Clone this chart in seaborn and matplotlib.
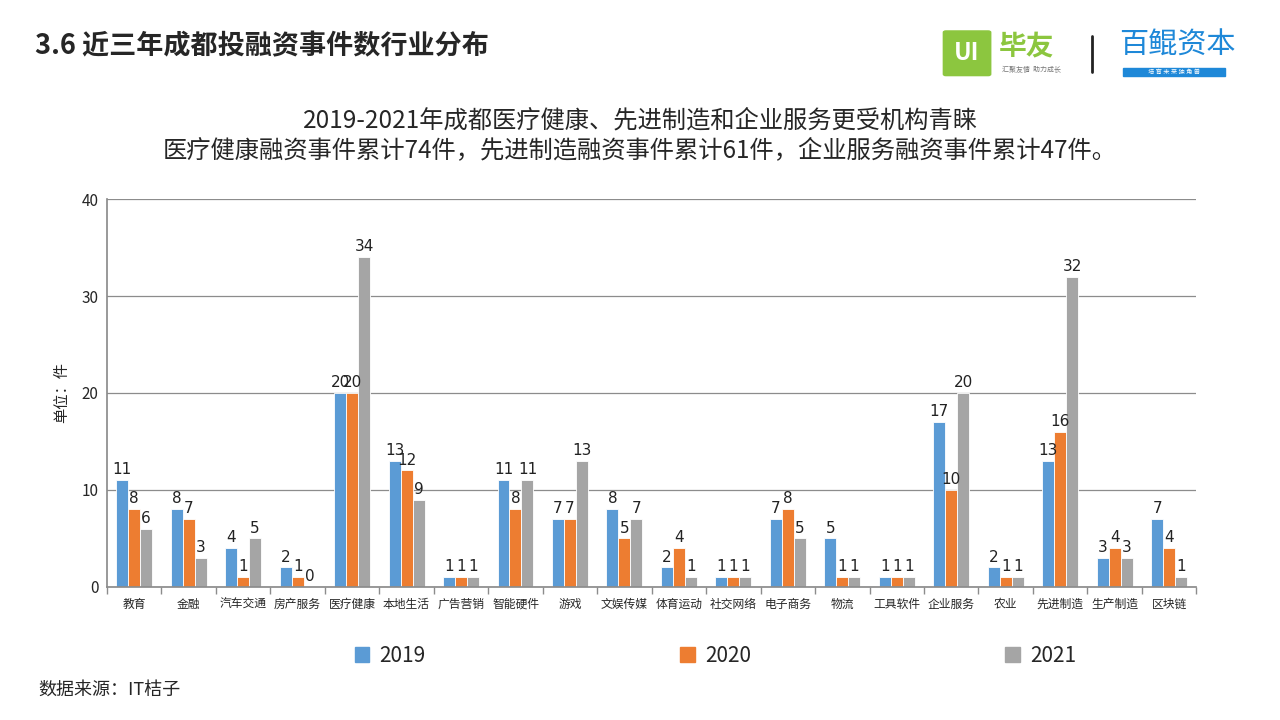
import pandas as pd
import matplotlib.pyplot as plt
import seaborn as sns
from matplotlib.patches import FancyBboxPatch, Rectangle

industries = ['教育', '金融', '汽车交通', '房产服务', '医疗健康', '本地生活', '广告营销',
              '智能硬件', '游戏', '文娱传媒', '体育运动', '社交网络', '电子商务', '物流',
              '工具软件', '企业服务', '农业', '先进制造', '生产制造', '区块链']
years = ['2019', '2020', '2021']
y2019 = [11, 8, 4, 2, 20, 13, 1, 11, 7, 8, 2, 1, 7, 5, 1, 17, 2, 13, 3, 7]
y2020 = [8, 7, 1, 1, 20, 12, 1, 8, 7, 5, 4, 1, 8, 1, 1, 10, 1, 16, 4, 4]
y2021 = [6, 3, 5, 0, 34, 9, 1, 11, 13, 7, 1, 1, 5, 1, 1, 20, 1, 32, 3, 1]
colors = ['#5B9BD5', '#ED7D31', '#A5A5A5']

df = pd.DataFrame({
    '行业': industries * 3,
    '年份': [y for y in years for _ in industries],
    '件数': y2019 + y2020 + y2021,
})

sns.set_theme(style='white')
plt.rcParams['font.family'] = ['Noto Sans CJK SC', 'DejaVu Sans']

fig = plt.figure(figsize=(12.8, 7.2), dpi=100)
ax = fig.add_axes([0.0836, 0.185, 0.851, 0.5385])

sns.barplot(data=df, x='行业', y='件数', hue='年份', palette=colors, width=0.66,
            saturation=1, edgecolor='white', linewidth=0.6, ax=ax)

for c in ax.containers:
    ax.bar_label(c, fmt='%d', fontsize=11, color='#222222', padding=2, family='DejaVu Sans')

ax.set_ylim(0, 40)
ax.set_yticks([0, 10, 20, 30, 40])
ax.set_xlim(-0.5, len(industries) - 0.5)
ax.yaxis.grid(True, color='#8c8c8c', linewidth=0.9)
ax.set_axisbelow(True)
for s in ['top', 'right']:
    ax.spines[s].set_visible(False)
ax.spines['left'].set_color('#8c8c8c')
ax.spines['bottom'].set_color('#8c8c8c')
ax.set_xlabel('')
ax.set_ylabel('单位：件', fontsize=11, labelpad=8)
ax.tick_params(axis='x', labelsize=8.5, length=0, pad=8)
ax.tick_params(axis='y', labelsize=11, length=0, pad=6)
ax.set_xticks([i + 0.5 for i in range(-1, len(industries))], minor=True)
ax.tick_params(axis='x', which='minor', length=5, color='#8c8c8c', bottom=True)
ax.legend_.remove()

handles = [Rectangle((0, 0), 1, 1, color=c) for c in colors]
fig.legend(handles, years, loc='center', bbox_to_anchor=(0.559, 0.089), ncol=3,
           frameon=False, fontsize=15, handlelength=0.7, handleheight=0.7,
           handletextpad=0.5, columnspacing=12.2)

fig.text(0.027, 0.935, '3.6 近三年成都投融资事件数行业分布', fontsize=19.5, fontweight='bold',
         va='center', ha='left')
fig.text(0.5, 0.833, '2019-2021年成都医疗健康、先进制造和企业服务更受机构青睐', fontsize=17.5,
         ha='center', va='center')
fig.text(0.5, 0.791, '医疗健康融资事件累计74件，先进制造融资事件累计61件，企业服务融资事件累计47件。',
         fontsize=17.5, ha='center', va='center')
fig.text(0.03, 0.042, '数据来源：IT桔子', fontsize=13, ha='left', va='center')

# logos
fig.patches.append(FancyBboxPatch((0.739, 0.897), 0.033, 0.058, boxstyle='round,pad=0.002',
                                  transform=fig.transFigure, color='#8CC63F'))
fig.text(0.7555, 0.926, 'UI', fontsize=17, fontweight='bold', color='white', ha='center', va='center')
fig.text(0.78, 0.935, '毕友', fontsize=20, fontweight='bold', color='#8CC63F', ha='left', va='center')
fig.text(0.783, 0.903, '汇聚友情  助力成长', fontsize=5, color='#777777', ha='left', va='center')
fig.add_artist(plt.Line2D([0.853, 0.853], [0.9, 0.95], transform=fig.transFigure,
                          color='#222222', linewidth=2))
fig.text(0.92, 0.937, '百鲲资本', fontsize=21, color='#1E88D8', ha='center', va='center',
         fontstyle='italic')
fig.patches.append(Rectangle((0.877, 0.894), 0.08, 0.012, transform=fig.transFigure,
                             color='#1E88D8'))
fig.text(0.917, 0.9, '培 育 未 来 独 角 兽', fontsize=4.5, color='white', ha='center', va='center')

plt.savefig('out.png', dpi=100)
